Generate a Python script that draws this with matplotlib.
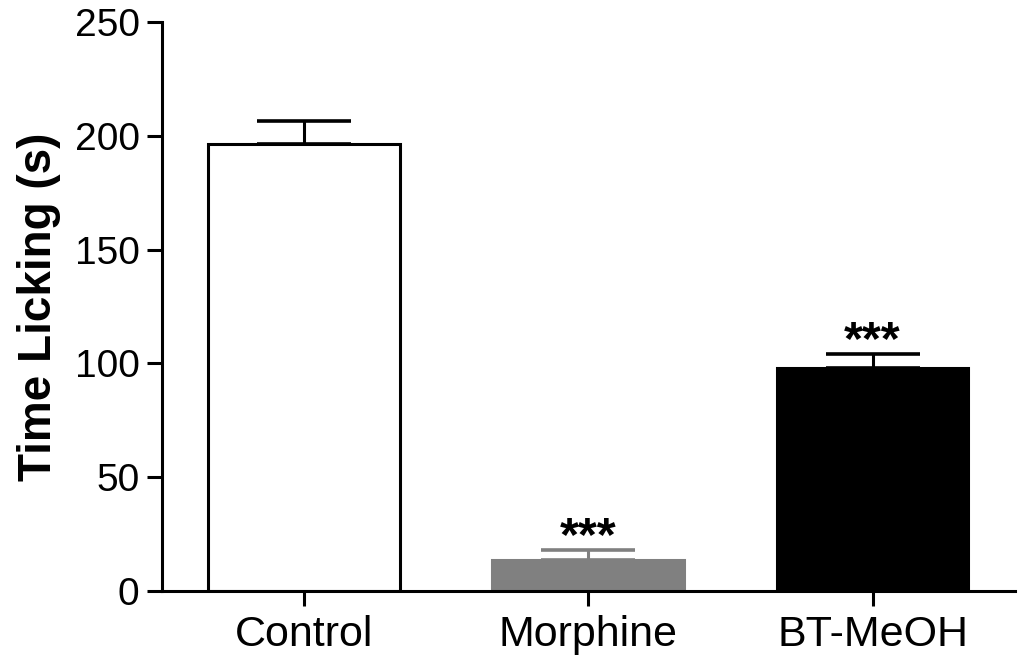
import matplotlib.pyplot as plt
import numpy as np

plt.rcParams['font.family'] = ['Liberation Sans', 'DejaVu Sans']

groups = ['Control', 'Morphine', 'BT-MeOH']
means = [196.5, 13.6, 98.2]
sem = [10.0, 4.4, 5.8]
stars = ['', '***', '***']
colors = ['white', '#808080', 'black']
edge_colors = ['black', '#808080', 'black']

fig = plt.figure(figsize=(10.24, 6.65), dpi=100)
ax = fig.add_axes([0.158, 0.111, 0.833, 0.856])

x = np.arange(len(groups))
ax.bar(x, means, width=0.674, color=colors, edgecolor=edge_colors, linewidth=2.2, zorder=2)
for i in range(len(groups)):
    ax.errorbar(x[i], means[i], yerr=[[0], [sem[i]]], fmt='none', ecolor=edge_colors[i],
                elinewidth=2.2, capsize=34, capthick=2.6, zorder=1)
    if stars[i]:
        ax.text(x[i], means[i] + sem[i], stars[i], ha='center', va='baseline',
                fontsize=35, fontweight='bold')

ax.set_xlim(-0.5, 2.5)
ax.set_ylim(0, 250)
ax.set_yticks([0, 50, 100, 150, 200, 250])
ax.set_xticks(x)
ax.set_xticklabels(groups)
ax.tick_params(axis='y', labelsize=28, width=2.2, length=11, pad=5)
ax.tick_params(axis='x', labelsize=31, width=2.2, length=11, pad=6)
ax.set_ylabel('Time Licking (s)', fontsize=33, fontweight='bold', labelpad=10)
for s in ['top', 'right']:
    ax.spines[s].set_visible(False)
for s in ['left', 'bottom']:
    ax.spines[s].set_linewidth(2.2)

fig.savefig('out.png', dpi=100)
